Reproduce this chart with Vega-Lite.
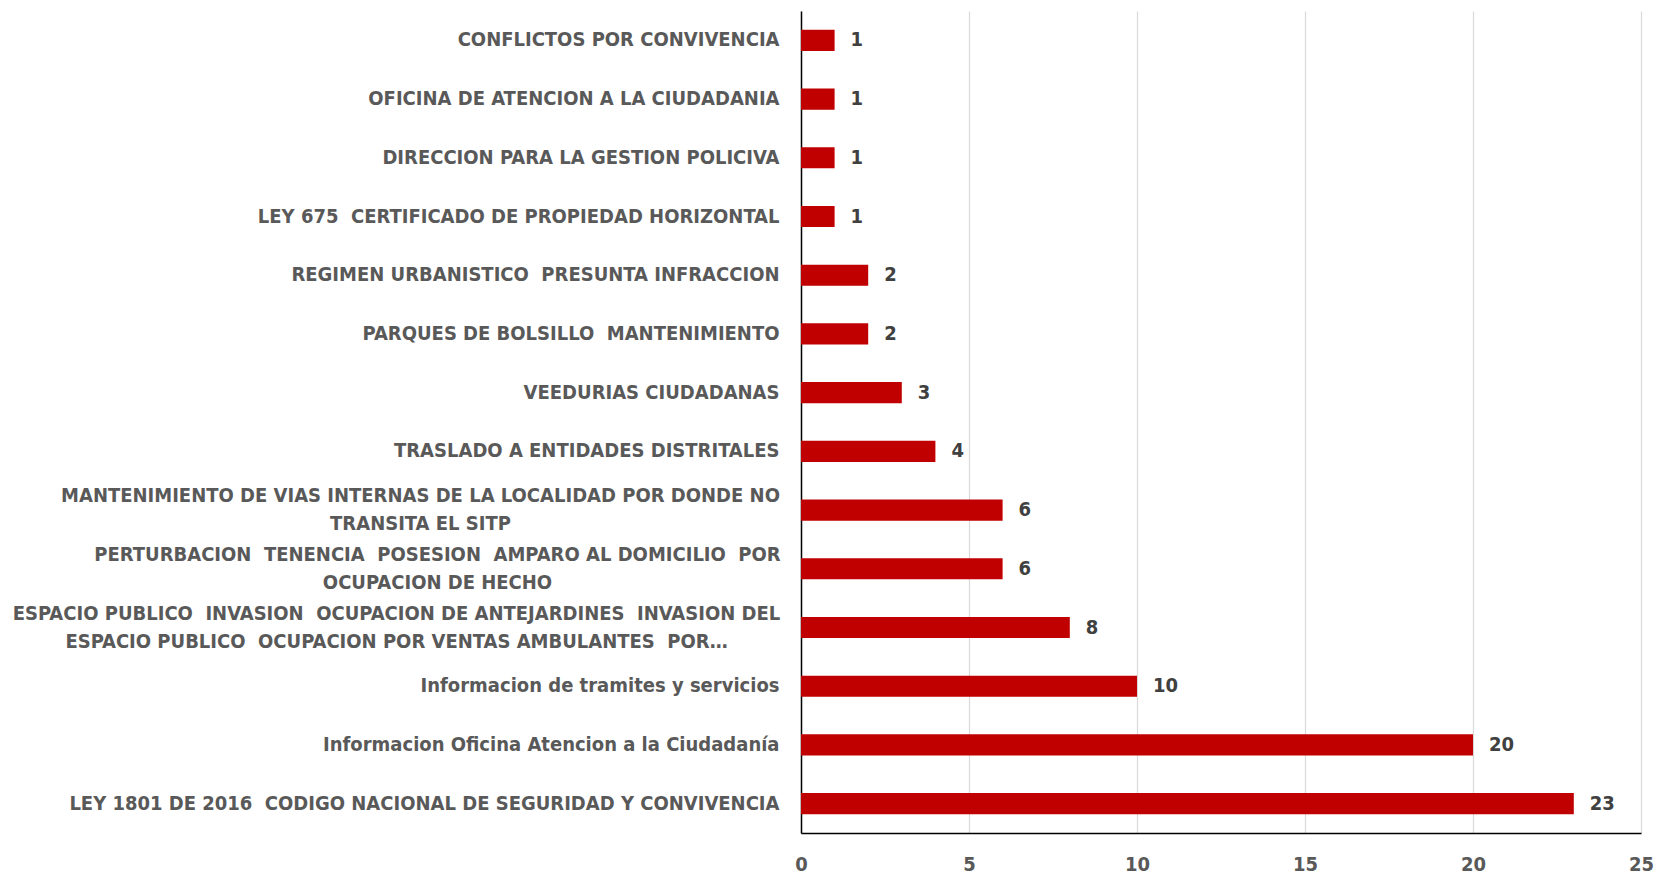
{
  "$schema": "https://vega.github.io/schema/vega-lite/v6.json",
  "width": 840,
  "height": 822,
  "padding": {"left": 5, "top": 11, "right": 16, "bottom": 5},
  "autosize": {"type": "pad"},
  "background": "white",
  "config": {
    "view": {"stroke": null},
    "font": "DejaVu Sans Condensed"
  },
  "data": {
    "values": [
      {"tema": "CONFLICTOS POR CONVIVENCIA", "n": 1},
      {"tema": "OFICINA DE ATENCION A LA CIUDADANIA", "n": 1},
      {"tema": "DIRECCION PARA LA GESTION POLICIVA", "n": 1},
      {"tema": "LEY 675  CERTIFICADO DE PROPIEDAD HORIZONTAL", "n": 1},
      {"tema": "REGIMEN URBANISTICO  PRESUNTA INFRACCION", "n": 2},
      {"tema": "PARQUES DE BOLSILLO  MANTENIMIENTO", "n": 2},
      {"tema": "VEEDURIAS CIUDADANAS", "n": 3},
      {"tema": "TRASLADO A ENTIDADES DISTRITALES", "n": 4},
      {"tema": "MANTENIMIENTO DE VIAS INTERNAS DE LA LOCALIDAD POR DONDE NO|TRANSITA EL SITP", "n": 6},
      {"tema": "PERTURBACION  TENENCIA  POSESION  AMPARO AL DOMICILIO  POR|OCUPACION DE HECHO", "n": 6},
      {"tema": "ESPACIO PUBLICO  INVASION  OCUPACION DE ANTEJARDINES  INVASION DEL|ESPACIO PUBLICO  OCUPACION POR VENTAS AMBULANTES  POR…", "n": 8},
      {"tema": "Informacion de tramites y servicios", "n": 10},
      {"tema": "Informacion Oficina Atencion a la Ciudadanía", "n": 20},
      {"tema": "LEY 1801 DE 2016  CODIGO NACIONAL DE SEGURIDAD Y CONVIVENCIA", "n": 23}
    ]
  },
  "encoding": {
    "y": {
      "field": "tema",
      "type": "nominal",
      "sort": null,
      "scale": {"paddingInner": 0.64, "paddingOuter": 0.32},
      "axis": {
        "title": null,
        "labelExpr": "split(replace(datum.label, regexp('  ', 'g'), ' \u00a0'), '|')",
        "labelLimit": 0,
        "labelFont": "DejaVu Sans Condensed",
        "labelFontWeight": "bold",
        "labelFontSize": 20,
        "labelColor": "#595959",
        "labelLineHeight": 28,
        "labelAlign": {"condition": {"test": "indexof(datum.value, '|') >= 0", "value": "center"}, "value": "right"},
        "labelPadding": {
          "condition": [
            {"test": "indexof(datum.value, 'MANTENIMIENTO DE VIAS') >= 0", "value": 381},
            {"test": "indexof(datum.value, 'PERTURBACION') >= 0", "value": 364},
            {"test": "indexof(datum.value, 'ESPACIO PUBLICO') >= 0", "value": 405}
          ],
          "value": 22
        },
        "labelOffset": {"condition": {"test": "indexof(datum.value, '|') >= 0", "value": -14}, "value": 0},
        "ticks": false,
        "domainColor": "#000000",
        "domainWidth": 1.5,
        "minExtent": 796,
        "maxExtent": 796
      }
    },
    "x": {
      "field": "n",
      "type": "quantitative",
      "scale": {"domain": [0, 25], "nice": false},
      "axis": {
        "title": null,
        "values": [0, 5, 10, 15, 20, 25],
        "grid": true,
        "gridColor": "#D9D9D9",
        "gridWidth": 1.2,
        "ticks": false,
        "labelFlush": false,
        "domainColor": "#000000",
        "domainWidth": 1.5,
        "labelFont": "DejaVu Sans Condensed",
        "labelFontWeight": "bold",
        "labelFontSize": 20,
        "labelColor": "#595959",
        "labelPadding": 21
      }
    }
  },
  "layer": [
    {"mark": {"type": "bar", "color": "#C00000"}},
    {
      "mark": {
        "type": "text",
        "align": "left",
        "baseline": "middle",
        "dx": 16,
        "font": "DejaVu Sans Condensed",
        "fontWeight": "bold",
        "fontSize": 20,
        "color": "#404040"
      },
      "encoding": {"text": {"field": "n", "type": "quantitative"}}
    }
  ]
}
